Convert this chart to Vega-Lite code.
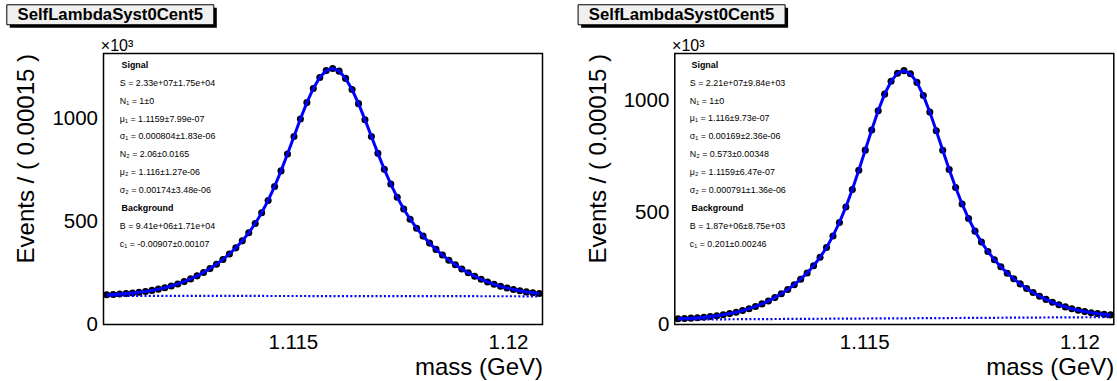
{
  "$schema": "https://vega.github.io/schema/vega-lite/v6.json",
  "background": "white",
  "padding": {"left": 5.5, "top": 3.5, "right": 0, "bottom": 0},
  "spacing": 132.3,
  "bounds": "flush",
  "config": {
    "font": "Liberation Sans",
    "view": {"stroke": "black", "strokeWidth": 1.5},
    "axis": {"domain": false, "grid": false, "ticks": true, "tickSize": 0, "tickColor": "black", "tickWidth": 1, "labelColor": "black", "titleColor": "black", "labelFont": "Liberation Sans", "titleFont": "Liberation Sans", "labelFontSize": 20.5, "titleFontSize": 24, "titleFontWeight": "normal", "labelOverlap": false}
  },
  "datasets": {
    "left": [
      {"m":1.110675,"n":144.65,"bkg":139.64},{"m":1.110825,"n":146.09,"bkg":139.60},{"m":1.110975,"n":147.93,"bkg":139.57},{"m":1.111125,"n":150.21,"bkg":139.53},
      {"m":1.111275,"n":153.04,"bkg":139.49},{"m":1.111425,"n":156.52,"bkg":139.46},{"m":1.111575,"n":160.74,"bkg":139.42},{"m":1.111725,"n":165.83,"bkg":139.38},
      {"m":1.111875,"n":171.91,"bkg":139.34},{"m":1.112025,"n":179.11,"bkg":139.31},{"m":1.112175,"n":187.56,"bkg":139.27},{"m":1.112325,"n":197.37,"bkg":139.23},
      {"m":1.112475,"n":208.69,"bkg":139.20},{"m":1.112625,"n":221.75,"bkg":139.16},{"m":1.112775,"n":236.52,"bkg":139.12},{"m":1.112925,"n":253.18,"bkg":139.09},
      {"m":1.113075,"n":271.90,"bkg":139.05},{"m":1.113225,"n":292.89,"bkg":139.01},{"m":1.113375,"n":316.41,"bkg":138.97},{"m":1.113525,"n":342.87,"bkg":138.94},
      {"m":1.113675,"n":372.78,"bkg":138.90},{"m":1.113825,"n":406.82,"bkg":138.86},{"m":1.113975,"n":445.92,"bkg":138.83},{"m":1.114125,"n":491.04,"bkg":138.79},
      {"m":1.114275,"n":543.21,"bkg":138.75},{"m":1.114425,"n":603.18,"bkg":138.72},{"m":1.114575,"n":671.26,"bkg":138.68},{"m":1.114725,"n":747.02,"bkg":138.64},
      {"m":1.114875,"n":828.96,"bkg":138.60},{"m":1.115025,"n":914.41,"bkg":138.57},{"m":1.115175,"n":999.42,"bkg":138.53},{"m":1.115325,"n":1079.11,"bkg":138.49},
      {"m":1.115475,"n":1148.20,"bkg":138.46},{"m":1.115625,"n":1201.51,"bkg":138.42},{"m":1.115775,"n":1234.75,"bkg":138.38},{"m":1.115925,"n":1245.28,"bkg":138.35},
      {"m":1.116075,"n":1232.26,"bkg":138.31},{"m":1.116225,"n":1197.02,"bkg":138.27},{"m":1.116375,"n":1142.79,"bkg":138.23},{"m":1.116525,"n":1074.09,"bkg":138.20},
      {"m":1.116675,"n":996.13,"bkg":138.16},{"m":1.116825,"n":914.01,"bkg":138.12},{"m":1.116975,"n":832.31,"bkg":138.09},{"m":1.117125,"n":754.51,"bkg":138.05},
      {"m":1.117275,"n":682.94,"bkg":138.01},{"m":1.117425,"n":618.64,"bkg":137.98},{"m":1.117575,"n":561.80,"bkg":137.94},{"m":1.117725,"n":511.97,"bkg":137.90},
      {"m":1.117875,"n":468.31,"bkg":137.86},{"m":1.118025,"n":429.90,"bkg":137.83},{"m":1.118175,"n":395.83,"bkg":137.79},{"m":1.118325,"n":365.32,"bkg":137.75},
      {"m":1.118475,"n":337.79,"bkg":137.72},{"m":1.118625,"n":312.85,"bkg":137.68},{"m":1.118775,"n":290.23,"bkg":137.64},{"m":1.118925,"n":269.76,"bkg":137.61},
      {"m":1.119075,"n":251.29,"bkg":137.57},{"m":1.119225,"n":234.74,"bkg":137.53},{"m":1.119375,"n":219.94,"bkg":137.49},{"m":1.119525,"n":206.95,"bkg":137.46},
      {"m":1.119675,"n":195.56,"bkg":137.42},{"m":1.119825,"n":185.67,"bkg":137.38},{"m":1.119975,"n":177.15,"bkg":137.35},{"m":1.120125,"n":169.88,"bkg":137.31},
      {"m":1.120275,"n":163.72,"bkg":137.27},{"m":1.120425,"n":158.56,"bkg":137.24},{"m":1.120575,"n":154.26,"bkg":137.20},{"m":1.120725,"n":150.71,"bkg":137.16}
    ],
    "right": [
      {"m":1.110675,"n":25.53,"bkg":22.05},{"m":1.110825,"n":26.81,"bkg":22.22},{"m":1.110975,"n":28.38,"bkg":22.38},{"m":1.111125,"n":30.32,"bkg":22.54},
      {"m":1.111275,"n":32.71,"bkg":22.70},{"m":1.111425,"n":35.64,"bkg":22.87},{"m":1.111575,"n":39.21,"bkg":23.03},{"m":1.111725,"n":43.52,"bkg":23.19},
      {"m":1.111875,"n":48.71,"bkg":23.36},{"m":1.112025,"n":54.88,"bkg":23.52},{"m":1.112175,"n":62.17,"bkg":23.68},{"m":1.112325,"n":70.70,"bkg":23.84},
      {"m":1.112475,"n":80.62,"bkg":24.00},{"m":1.112625,"n":92.03,"bkg":24.17},{"m":1.112775,"n":105.28,"bkg":24.33},{"m":1.112925,"n":120.22,"bkg":24.49},
      {"m":1.113075,"n":137.15,"bkg":24.66},{"m":1.113225,"n":156.28,"bkg":24.82},{"m":1.113375,"n":177.89,"bkg":24.98},{"m":1.113525,"n":202.43,"bkg":25.14},
      {"m":1.113675,"n":230.45,"bkg":25.31},{"m":1.113825,"n":262.74,"bkg":25.47},{"m":1.113975,"n":300.26,"bkg":25.62},{"m":1.114125,"n":344.28,"bkg":25.79},
      {"m":1.114275,"n":395.84,"bkg":25.96},{"m":1.114425,"n":456.04,"bkg":26.12},{"m":1.114575,"n":525.34,"bkg":26.28},{"m":1.114725,"n":603.50,"bkg":26.44},
      {"m":1.114875,"n":689.02,"bkg":26.61},{"m":1.115025,"n":779.12,"bkg":26.77},{"m":1.115175,"n":869.51,"bkg":26.93},{"m":1.115325,"n":954.91,"bkg":27.09},
      {"m":1.115475,"n":1029.41,"bkg":27.26},{"m":1.115625,"n":1087.07,"bkg":27.42},{"m":1.115775,"n":1123.12,"bkg":27.58},{"m":1.115925,"n":1134.45,"bkg":27.74},
      {"m":1.116075,"n":1120.21,"bkg":27.91},{"m":1.116225,"n":1081.89,"bkg":28.07},{"m":1.116375,"n":1023.13,"bkg":28.23},{"m":1.116525,"n":949.11,"bkg":28.39},
      {"m":1.116675,"n":865.70,"bkg":28.56},{"m":1.116825,"n":778.57,"bkg":28.72},{"m":1.116975,"n":692.78,"bkg":28.88},{"m":1.117125,"n":612.05,"bkg":29.04},
      {"m":1.117275,"n":538.65,"bkg":29.21},{"m":1.117425,"n":473.66,"bkg":29.37},{"m":1.117575,"n":417.14,"bkg":29.53},{"m":1.117725,"n":368.30,"bkg":29.70},
      {"m":1.117875,"n":326.21,"bkg":29.86},{"m":1.118025,"n":289.65,"bkg":30.02},{"m":1.118175,"n":257.68,"bkg":30.18},{"m":1.118325,"n":229.38,"bkg":30.35},
      {"m":1.118475,"n":204.13,"bkg":30.51},{"m":1.118625,"n":181.46,"bkg":30.67},{"m":1.118775,"n":161.11,"bkg":30.83},{"m":1.118925,"n":142.87,"bkg":31.00},
      {"m":1.119075,"n":126.57,"bkg":31.16},{"m":1.119225,"n":112.12,"bkg":31.32},{"m":1.119375,"n":99.34,"bkg":31.48},{"m":1.119525,"n":88.27,"bkg":31.65},
      {"m":1.119675,"n":78.67,"bkg":31.81},{"m":1.119825,"n":70.46,"bkg":31.97},{"m":1.119975,"n":63.49,"bkg":32.13},{"m":1.120125,"n":57.65,"bkg":32.30},
      {"m":1.120275,"n":52.79,"bkg":32.46},{"m":1.120425,"n":48.80,"bkg":32.62},{"m":1.120575,"n":45.55,"bkg":32.78},{"m":1.120725,"n":42.96,"bkg":32.95}
    ]
  },
  "hconcat": [
    {
      "width": 439, "height": 271,
      "resolve": {"axis": {"y": "independent"}},
      "layer": [
        {"data": {"name": "left"}, "mark": {"type": "circle", "size": 50, "color": "black", "opacity": 1},
         "encoding": {
           "x": {"field": "m", "type": "quantitative", "scale": {"domain": [1.1106, 1.1208], "nice": false, "zero": false},
                 "axis": {"values": [1.111, 1.112, 1.113, 1.114, 1.115, 1.116, 1.117, 1.118, 1.119, 1.12],
                          "labelExpr": "datum.value == 1.115 ? '1.115' : (datum.value == 1.12 ? '1.12' : '')",
                          "labelOverlap": false,
                          "encode": {"ticks": {"update": {"y2": {"signal": "(datum.value == 1.115 || datum.value == 1.12) ? -8 : -4"}}}},
                          "labelPadding": 8, "title": "mass (GeV)", "titleAnchor": "end", "titlePadding": 2}},
           "y": {"field": "n", "type": "quantitative", "scale": {"domain": [0, 1318], "nice": false, "zero": false},
                 "axis": {"orient": "left", "values": [0, 500, 1000], "format": "d", "labelOverlap": false,
                          "encode": {"ticks": {"update": {"x2": {"value": 13}}}},
                          "labelPadding": 6, "title": "Events / ( 0.00015 )", "titleAnchor": "end", "titlePadding": 13}}
         }},
        {"data": {"name": "left"}, "mark": {"type": "line", "color": "#0000ff", "strokeWidth": 3},
         "encoding": {"x": {"field": "m", "type": "quantitative"}, "y": {"field": "n", "type": "quantitative", "axis": null}}},
        {"data": {"name": "left"}, "mark": {"type": "line", "color": "#0000ff", "strokeWidth": 2.2, "strokeDash": [2, 2.2]},
         "encoding": {"x": {"field": "m", "type": "quantitative"},
                      "y": {"field": "bkg", "type": "quantitative",
                            "axis": {"orient": "left", "values": [100, 200, 300, 400, 600, 700, 800, 900, 1100, 1200, 1300], "labels": false, "title": null,
                                     "encode": {"ticks": {"update": {"x2": {"value": 6.5}}}}}}}},
        {"data": {"values": [{}]}, "mark": {"type": "rect", "fill": "black"},
         "encoding": {"x": {"datum": 1.1084229}, "x2": {"datum": 1.1132325}, "y": {"datum": 1540.4, "axis": null}, "y2": {"datum": 1443.1}}},
        {"data": {"values": [{}]}, "mark": {"type": "rect", "fill": "#f0f0f0", "stroke": "black", "strokeWidth": 1},
         "encoding": {"x": {"datum": 1.1083532}, "x2": {"datum": 1.1131628}, "y": {"datum": 1555.0, "axis": null}, "y2": {"datum": 1457.7}}},
        {"data": {"values": [{}]}, "mark": {"type": "text", "text": "SelfLambdaSyst0Cent5", "fontWeight": "bold", "fontSize": 16.7, "align": "center", "baseline": "middle", "color": "black"},
         "encoding": {"x": {"datum": 1.110758}, "y": {"datum": 1506.4, "axis": null}}},
        {"data": {"values": [{}]}, "mark": {"type": "text", "text": "×10³", "fontSize": 16, "align": "left", "baseline": "alphabetic", "color": "black"},
         "encoding": {"x": {"datum": 1.110537}, "y": {"datum": 1331, "axis": null}}},
        {"data": {"values": [{}]}, "mark": {"type": "text", "text": "Signal", "fontSize": 8.9, "fontWeight": "bold", "align": "left", "baseline": "alphabetic", "color": "black"},
         "encoding": {"x": {"datum": 1.111019}, "y": {"datum": 1248.4, "axis": null}}},
        {"data": {"values": [{}]}, "mark": {"type": "text", "fontSize": 8.9, "lineHeight": 17.9, "align": "left", "baseline": "alphabetic", "color": "black",
           "text": ["S = 2.33e+07±1.75e+04", "N₁ = 1±0", "μ₁ = 1.1159±7.99e-07", "σ₁ = 0.000804±1.83e-06", "N₂ = 2.06±0.0165", "μ₂ = 1.116±1.27e-06", "σ₂ = 0.00174±3.48e-06"]},
         "encoding": {"x": {"datum": 1.110979}, "y": {"datum": 1161.3, "axis": null}}},
        {"data": {"values": [{}]}, "mark": {"type": "text", "text": "Background", "fontSize": 8.9, "fontWeight": "bold", "align": "left", "baseline": "alphabetic", "color": "black"},
         "encoding": {"x": {"datum": 1.111019}, "y": {"datum": 551.9, "axis": null}}},
        {"data": {"values": [{}]}, "mark": {"type": "text", "fontSize": 8.9, "lineHeight": 17.9, "align": "left", "baseline": "alphabetic", "color": "black",
           "text": ["B = 9.41e+06±1.71e+04", "c₁ = -0.00907±0.00107"]},
         "encoding": {"x": {"datum": 1.110979}, "y": {"datum": 464.9, "axis": null}}}
      ]
    },
    {
      "width": 439, "height": 271,
      "resolve": {"axis": {"y": "independent"}},
      "layer": [
        {"data": {"name": "right"}, "mark": {"type": "circle", "size": 50, "color": "black", "opacity": 1},
         "encoding": {
           "x": {"field": "m", "type": "quantitative", "scale": {"domain": [1.1106, 1.1208], "nice": false, "zero": false},
                 "axis": {"values": [1.111, 1.112, 1.113, 1.114, 1.115, 1.116, 1.117, 1.118, 1.119, 1.12],
                          "labelExpr": "datum.value == 1.115 ? '1.115' : (datum.value == 1.12 ? '1.12' : '')",
                          "labelOverlap": false,
                          "encode": {"ticks": {"update": {"y2": {"signal": "(datum.value == 1.115 || datum.value == 1.12) ? -8 : -4"}}}},
                          "labelPadding": 8, "title": "mass (GeV)", "titleAnchor": "end", "titlePadding": 2}},
           "y": {"field": "n", "type": "quantitative", "scale": {"domain": [0, 1211], "nice": false, "zero": false},
                 "axis": {"orient": "left", "values": [0, 500, 1000], "format": "d", "labelOverlap": false,
                          "encode": {"ticks": {"update": {"x2": {"value": 13}}}},
                          "labelPadding": 6, "title": "Events / ( 0.00015 )", "titleAnchor": "end", "titlePadding": 13}}
         }},
        {"data": {"name": "right"}, "mark": {"type": "line", "color": "#0000ff", "strokeWidth": 3},
         "encoding": {"x": {"field": "m", "type": "quantitative"}, "y": {"field": "n", "type": "quantitative", "axis": null}}},
        {"data": {"name": "right"}, "mark": {"type": "line", "color": "#0000ff", "strokeWidth": 2.2, "strokeDash": [2, 2.2]},
         "encoding": {"x": {"field": "m", "type": "quantitative"},
                      "y": {"field": "bkg", "type": "quantitative",
                            "axis": {"orient": "left", "values": [100, 200, 300, 400, 600, 700, 800, 900, 1100, 1200], "labels": false, "title": null,
                                     "encode": {"ticks": {"update": {"x2": {"value": 6.5}}}}}}}},
        {"data": {"values": [{}]}, "mark": {"type": "rect", "fill": "black"},
         "encoding": {"x": {"datum": 1.1084229}, "x2": {"datum": 1.1132325}, "y": {"datum": 1415.4, "axis": null}, "y2": {"datum": 1325.9}}},
        {"data": {"values": [{}]}, "mark": {"type": "rect", "fill": "#f0f0f0", "stroke": "black", "strokeWidth": 1},
         "encoding": {"x": {"datum": 1.1083532}, "x2": {"datum": 1.1131628}, "y": {"datum": 1428.8, "axis": null}, "y2": {"datum": 1339.3}}},
        {"data": {"values": [{}]}, "mark": {"type": "text", "text": "SelfLambdaSyst0Cent5", "fontWeight": "bold", "fontSize": 16.7, "align": "center", "baseline": "middle", "color": "black"},
         "encoding": {"x": {"datum": 1.110758}, "y": {"datum": 1384.1, "axis": null}}},
        {"data": {"values": [{}]}, "mark": {"type": "text", "text": "×10³", "fontSize": 16, "align": "left", "baseline": "alphabetic", "color": "black"},
         "encoding": {"x": {"datum": 1.110537}, "y": {"datum": 1223, "axis": null}}},
        {"data": {"values": [{}]}, "mark": {"type": "text", "text": "Signal", "fontSize": 8.9, "fontWeight": "bold", "align": "left", "baseline": "alphabetic", "color": "black"},
         "encoding": {"x": {"datum": 1.110989}, "y": {"datum": 1147.1, "axis": null}}},
        {"data": {"values": [{}]}, "mark": {"type": "text", "fontSize": 8.9, "lineHeight": 17.9, "align": "left", "baseline": "alphabetic", "color": "black",
           "text": ["S = 2.21e+07±9.84e+03", "N₁ = 1±0", "μ₁ = 1.116±9.73e-07", "σ₁ = 0.00169±2.36e-06", "N₂ = 0.573±0.00348", "μ₂ = 1.1159±6.47e-07", "σ₂ = 0.000791±1.36e-06"]},
         "encoding": {"x": {"datum": 1.110949}, "y": {"datum": 1067.1, "axis": null}}},
        {"data": {"values": [{}]}, "mark": {"type": "text", "text": "Background", "fontSize": 8.9, "fontWeight": "bold", "align": "left", "baseline": "alphabetic", "color": "black"},
         "encoding": {"x": {"datum": 1.110989}, "y": {"datum": 507.2, "axis": null}}},
        {"data": {"values": [{}]}, "mark": {"type": "text", "fontSize": 8.9, "lineHeight": 17.9, "align": "left", "baseline": "alphabetic", "color": "black",
           "text": ["B = 1.87e+06±8.75e+03", "c₁ = 0.201±0.00246"]},
         "encoding": {"x": {"datum": 1.110949}, "y": {"datum": 427.2, "axis": null}}}
      ]
    }
  ]
}
